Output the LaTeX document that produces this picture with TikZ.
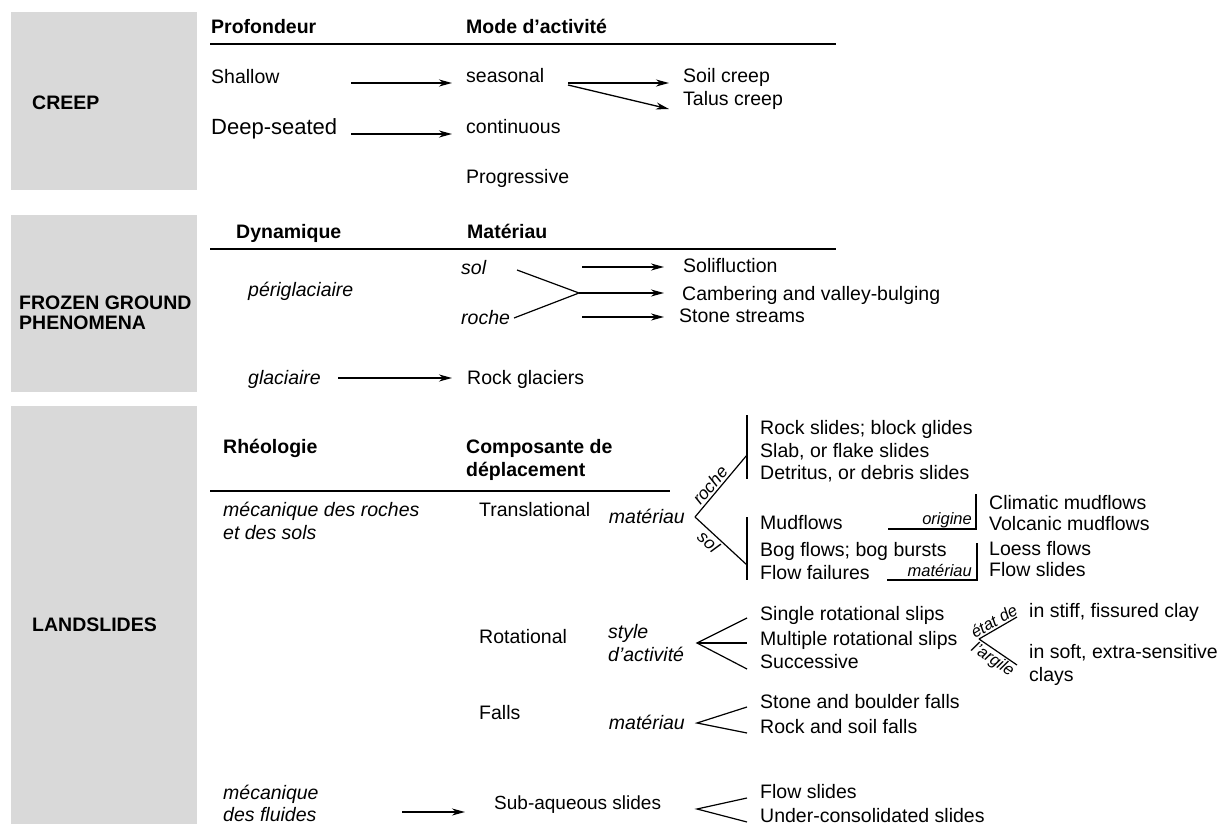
\documentclass[tikz,border=0pt]{standalone}
\usepackage{fontspec}
\setmainfont{Liberation Sans}
\usetikzlibrary{arrows.meta}
\definecolor{boxgray}{RGB}{217,217,217}
\newcommand\myfs{\fontsize{19.5}{23}\selectfont}
\newcommand\mysm{\fontsize{16.5}{19}\selectfont}
\newcommand\mymd{\fontsize{17.5}{20}\selectfont}
\begin{document}
\begin{tikzpicture}[x=1pt,y=-1pt,
  t/.style={anchor=base west,inner sep=0pt,font=\myfs},
  tb/.style={t,font=\myfs\bfseries},
  ti/.style={t,font=\myfs\itshape},
  tri/.style={ti,anchor=base east},
  brl/.style={anchor=base east,inner sep=0pt,font=\mysm\itshape},
  arr/.style={-{Stealth[length=13pt,width=7pt,inset=4pt]},line width=1.3pt},
  ln/.style={line width=1.2pt},
  hdr/.style={line width=1.5pt},
  grbox/.style={fill=boxgray,draw=none}]
\useasboundingbox (0,0) rectangle (1224,824);
% grey boxes
\fill[grbox] (11,12) rectangle (197,190);
\fill[grbox] (11,215) rectangle (197,392);
\fill[grbox] (11,406) rectangle (197,824);
\node[tb] (creep) at (32,110) {CREEP};
\node[tb] (frozenA) at (19,309) {FROZEN GROUND};
\node[tb] (frozenB) at (19,329) {PHENOMENA};
\node[tb] (lands) at (32,631) {LANDSLIDES};
% ---------------- CREEP
\node[tb] (prof) at (211,34) {Profondeur};
\node[tb] (mode) at (466,34) {Mode d’activité};
\draw[hdr] (210,44) -- (836,44);
\node[t] (shallow) at (211,84) {Shallow};
\node[t] (seasonal) at (466,83) {seasonal};
\node[t] (soil) at (683,83) {Soil creep};
\node[t] (talus) at (683,106) {Talus creep};
\node[t,font=\fontsize{22}{26}\selectfont] (deep) at (211,135) {Deep-seated};
\node[t] (cont) at (466,134) {continuous};
\node[t] (prog) at (466,184) {Progressive};
\coordinate (c1a) at (351,83); \coordinate (c1b) at (452,83);
\coordinate (c2a) at (351,134); \coordinate (c2b) at (452,134);
\coordinate (c3a) at (568,83); \coordinate (c3b) at (669,83);
\coordinate (c4a) at (568,85); \coordinate (c4b) at (669,109);
\draw[arr] (c1a) -- (c1b);
\draw[arr] (c2a) -- (c2b);
\draw[arr] (c3a) -- (c3b);
\draw[arr] (c4a) -- (c4b);
% ---------------- FROZEN GROUND
\node[tb] (dyn) at (236,238) {Dynamique};
\node[tb] (mat) at (467,238) {Matériau};
\draw[hdr] (210,249) -- (836,249);
\node[ti] (peri) at (248,296) {périglaciaire};
\node[ti] (sol) at (461,274) {sol};
\node[ti] (roche) at (461,324) {roche};
\node[t] (solif) at (683,272) {Solifluction};
\node[t] (camb) at (682,300) {Cambering and valley-bulging};
\node[t] (stone) at (679,322) {Stone streams};
\coordinate (f0) at (579,293);
\coordinate (fsol) at (517,270);
\coordinate (froc) at (514,318);
\draw[ln] (fsol) -- (f0) -- (froc);
\coordinate (f1a) at (582,267); \coordinate (f1b) at (664,267);
\coordinate (f2b) at (664,293);
\coordinate (f3a) at (582,317); \coordinate (f3b) at (664,317);
\draw[arr] (f1a) -- (f1b);
\draw[arr] (f0) -- (f2b);
\draw[arr] (f3a) -- (f3b);
\node[ti] (glac) at (248,384) {glaciaire};
\node[t] (rockg) at (467,384) {Rock glaciers};
\coordinate (g1a) at (338,378); \coordinate (g1b) at (452,378);
\draw[arr] (g1a) -- (g1b);
% ---------------- LANDSLIDES
\node[tb] (rheo) at (223,453) {Rhéologie};
\node[tb] (compA) at (466,453) {Composante de};
\node[tb] (compB) at (466,476) {déplacement};
\draw[hdr] (210,491) -- (670,491);
\node[ti] (mecA) at (223,516) {mécanique des roches};
\node[ti] (mecB) at (223,539) {et des sols};
% translational
\node[t] (trans) at (479,516) {Translational};
\node[tri] (matA) at (685,523) {matériau};
\coordinate (tap) at (695,517);
\coordinate (troc) at (747,455);
\coordinate (tsol) at (747,565);
\draw[ln] (tap) -- node[pos=0.42,sloped,above,inner sep=2pt,font=\mymd\itshape] {roche} (troc);
\draw[ln] (tap) -- node[pos=0.38,sloped,below,inner sep=2pt,font=\mymd\itshape] {sol} (tsol);
\coordinate (rbA) at (747,415); \coordinate (rbB) at (747,479);
\draw[ln] (rbA) -- (rbB);
\coordinate (sbA) at (747,517); \coordinate (sbB) at (747,580);
\draw[ln] (sbA) -- (sbB);
\node[t] (rsA) at (760,434) {Rock slides; block glides};
\node[t] (rsB) at (760,457) {Slab, or flake slides};
\node[t] (rsC) at (760,479) {Detritus, or debris slides};
\node[t] (mud) at (760,529) {Mudflows};
\node[t] (bog) at (760,556) {Bog flows; bog bursts};
\node[t] (ffail) at (760,579) {Flow failures};
\coordinate (oA) at (888,529); \coordinate (oB) at (976,529); \coordinate (oC) at (976,494);
\draw[ln] (oA) -- (oB) -- (oC);
\node[brl] (orig) at (972,524) {origine};
\node[t] (clim) at (989,509) {Climatic mudflows};
\node[t] (volc) at (989,530) {Volcanic mudflows};
\coordinate (mA) at (887,580); \coordinate (mB) at (977,580); \coordinate (mC) at (977,543);
\draw[ln] (mA) -- (mB) -- (mC);
\node[brl] (matB) at (972,576) {matériau};
\node[t] (loess) at (989,555) {Loess flows};
\node[t] (fslides) at (989,576) {Flow slides};
% rotational
\node[t] (rot) at (479,643) {Rotational};
\node[ti] (styA) at (608,638) {style};
\node[ti] (styB) at (608,661) {d’activité};
\coordinate (rap) at (697,643);
\coordinate (rA) at (747,618); \coordinate (rB) at (747,643); \coordinate (rC) at (747,669);
\draw[ln] (rA) -- (rap) -- (rC); \draw[ln] (rap) -- (rB);
\node[t] (single) at (760,620) {Single rotational slips};
\node[t] (multi) at (760,645) {Multiple rotational slips};
\node[t] (succ) at (760,668) {Successive};
\coordinate (eap) at (979,639);
\coordinate (eA) at (1017,617); \coordinate (eB) at (1017,665);
\draw[ln] (eap) -- node[midway,sloped,above,inner sep=1.5pt,font=\mysm\itshape] {état de} (eA);
\draw[ln] (eap) -- node[midway,sloped,below,inner sep=1.5pt,font=\mysm\itshape] {l’argile} (eB);
\node[t] (stiff) at (1029,617) {in stiff, fissured clay};
\node[t] (soft) at (1029,658) {in soft, extra-sensitive};
\node[t] (clays) at (1029,681) {clays};
% falls
\node[t] (falls) at (479,719) {Falls};
\node[tri] (matC) at (685,729) {matériau};
\coordinate (fap) at (697,723);
\coordinate (fA) at (747,707); \coordinate (fB) at (747,733);
\draw[ln] (fA) -- (fap) -- (fB);
\node[t] (sbf) at (760,708) {Stone and boulder falls};
\node[t] (rsf) at (760,733) {Rock and soil falls};
% sub-aqueous
\node[ti] (mfA) at (223,799) {mécanique};
\node[ti] (mfB) at (223,821) {des fluides};
\coordinate (sa1) at (402,812); \coordinate (sa2) at (465,812);
\draw[arr] (sa1) -- (sa2);
\node[t,font=\fontsize{19}{22}\selectfont] (sub) at (494,809) {Sub-aqueous slides};
\coordinate (sap) at (697,809);
\coordinate (sA) at (747,798); \coordinate (sB) at (747,822);
\draw[ln] (sA) -- (sap) -- (sB);
\node[t] (flsl) at (760,798) {Flow slides};
\node[t] (ucs) at (760,822) {Under-consolidated slides};
\end{tikzpicture}
\end{document}
